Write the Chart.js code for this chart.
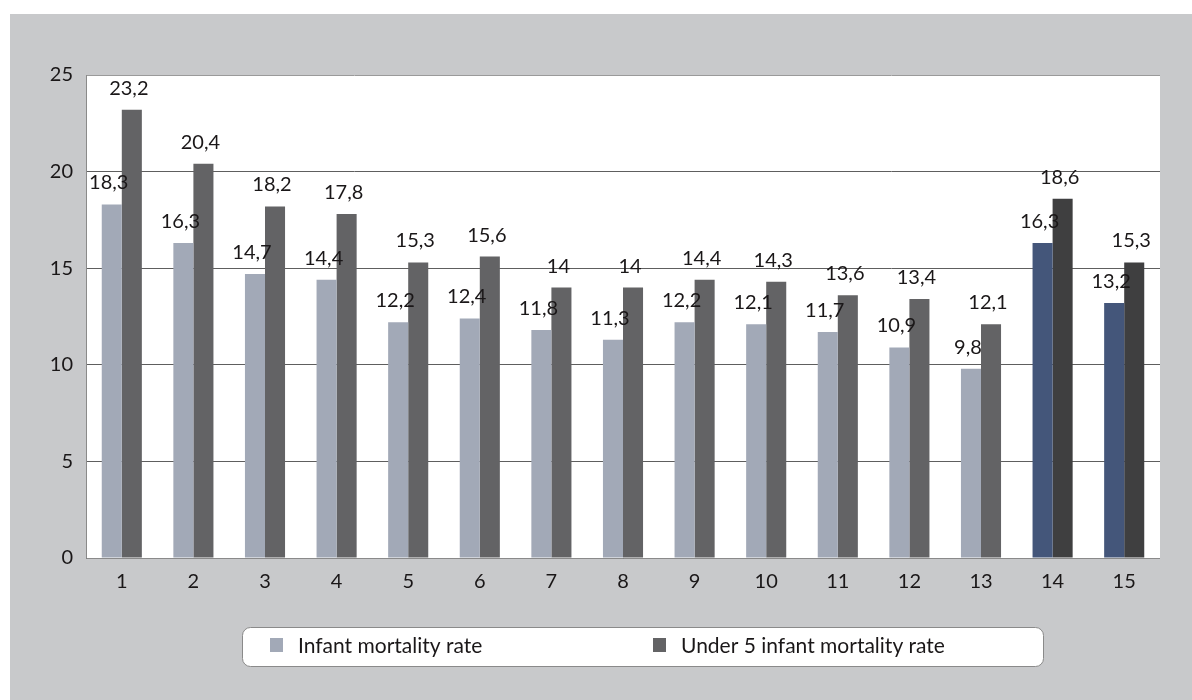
<!DOCTYPE html>
<html>
<head>
<meta charset="utf-8">
<script src="https://cdn.jsdelivr.net/npm/chart.js@4.4.1/dist/chart.umd.min.js"></script>
<style>
  html, body { margin: 0; padding: 0; background: #ffffff; }
  #wrap { width: 1192px; height: 700px; }
</style>
</head>
<body>
<div id="wrap"><canvas id="mortalidadChart" width="1192" height="700"></canvas></div>
<script>
// Datos del gráfico
const categorias = ['1', '2', '3', '4', '5', '6', '7', '8', '9', '10', '11', '12', '13', '14', '15'];
const tasaInfantil = [18.3, 16.3, 14.7, 14.4, 12.2, 12.4, 11.8, 11.3, 12.2, 12.1, 11.7, 10.9, 9.8, 16.3, 13.2];
const tasaMenores5 = [23.2, 20.4, 18.2, 17.8, 15.3, 15.6, 14, 14, 14.4, 14.3, 13.6, 13.4, 12.1, 18.6, 15.3];
const ticksY = [0, 5, 10, 15, 20, 25];
const destacados = ['14', '15'];

const FUENTE = 'Lato, "Open Sans", sans-serif';
const TEXTO = '#1a1718';

// Colores (las dos últimas categorías van resaltadas)
const coloresInfantil = categorias.map(c => destacados.includes(c) ? '#44567a' : '#a2a9b7');
const coloresMenores5 = categorias.map(c => destacados.includes(c) ? '#3f3f40' : '#636365');

function formatoValor(v) {
    return String(v).replace('.', ',');
}

// Fondo gris y área blanca del gráfico
const pluginFondo = {
    id: 'fondo',
    beforeDraw(chart) {
        const ctx = chart.ctx;
        const a = chart.chartArea;
        ctx.save();
        ctx.fillStyle = '#ffffff';
        ctx.fillRect(0, 0, chart.width, chart.height);
        ctx.fillStyle = '#c8c9cb';
        ctx.fillRect(10, 14, chart.width - 10, chart.height - 14);
        ctx.fillStyle = '#ffffff';
        ctx.fillRect(a.left, a.top, a.right - a.left, a.bottom - a.top);
        ctx.restore();
    },
    afterDatasetsDraw(chart) {
        const ctx = chart.ctx;
        const a = chart.chartArea;
        ctx.save();
        // borde izquierdo y eje inferior
        ctx.strokeStyle = '#8a8a8a';
        ctx.lineWidth = 1;
        ctx.beginPath();
        ctx.moveTo(a.left + 0.5, a.top);
        ctx.lineTo(a.left + 0.5, a.bottom + 0.5);
        ctx.lineTo(a.right, a.bottom + 0.5);
        ctx.stroke();
        ctx.restore();
    }
};

// Etiquetas de valor sobre cada barra
const pluginEtiquetas = {
    id: 'etiquetas',
    afterDatasetsDraw(chart) {
        const ctx = chart.ctx;
        ctx.save();
        ctx.font = '20px ' + FUENTE;
        ctx.fillStyle = TEXTO;
        ctx.textAlign = 'center';
        ctx.textBaseline = 'alphabetic';
        chart.data.datasets.forEach((ds, i) => {
            const meta = chart.getDatasetMeta(i);
            meta.data.forEach((barra, j) => {
                ctx.fillText(formatoValor(ds.data[j]), barra.x - 3, barra.y - 15);
            });
        });
        ctx.restore();
    }
};

// Leyenda dibujada en un recuadro blanco redondeado
const pluginLeyenda = {
    id: 'leyendaCaja',
    afterDraw(chart) {
        const ctx = chart.ctx;
        const x = 242, y = 627, w = 801, h = 39, r = 8;
        ctx.save();
        ctx.fillStyle = '#ffffff';
        ctx.strokeStyle = '#8a8a8a';
        ctx.lineWidth = 1;
        ctx.beginPath();
        ctx.roundRect(x + 0.5, y + 0.5, w, h, r);
        ctx.fill();
        ctx.stroke();

        const posiciones = [
            { cuadro: 270, texto: 298 },
            { cuadro: 653, texto: 681 }
        ];
        ctx.font = '21px ' + FUENTE;
        ctx.textBaseline = 'middle';
        ctx.textAlign = 'left';
        chart.data.datasets.forEach((ds, i) => {
            const p = posiciones[i];
            ctx.fillStyle = ds.legendColor;
            ctx.fillRect(p.cuadro, 638, 13, 14);
            ctx.fillStyle = TEXTO;
            ctx.fillText(ds.label, p.texto, 646);
        });
        ctx.restore();
    }
};

const ctx = document.getElementById('mortalidadChart');

new Chart(ctx, {
    type: 'bar',
    data: {
        labels: categorias,
        datasets: [{
            label: 'Infant mortality rate',
            data: tasaInfantil,
            backgroundColor: coloresInfantil,
            legendColor: '#a2a9b7',
            categoryPercentage: 0.56,
            barPercentage: 1.0
        }, {
            label: 'Under 5 infant mortality rate',
            data: tasaMenores5,
            backgroundColor: coloresMenores5,
            legendColor: '#636365',
            categoryPercentage: 0.56,
            barPercentage: 1.0
        }]
    },
    options: {
        responsive: false,
        animation: false,
        devicePixelRatio: 1,
        layout: {
            padding: { left: 0, top: 75, right: 32, bottom: 0 }
        },
        plugins: {
            legend: { display: false },
            tooltip: { enabled: false }
        },
        scales: {
            x: {
                grid: { display: false, drawTicks: false },
                border: { display: false },
                ticks: {
                    color: TEXTO,
                    font: { family: FUENTE, size: 20 },
                    padding: 12
                },
                afterFit(scale) {
                    scale.height = 142;
                }
            },
            y: {
                min: 0,
                max: 25,
                afterBuildTicks(scale) {
                    scale.ticks = ticksY.map(v => ({ value: v }));
                },
                grid: {
                    drawTicks: false,
                    color: ctx => ctx.tick && ctx.tick.value === 25 ? '#9a9a9a' : '#5e5e5e',
                    lineWidth: 1
                },
                border: { display: false },
                ticks: {
                    color: TEXTO,
                    font: { family: FUENTE, size: 20 },
                    padding: 13
                },
                afterFit(scale) {
                    scale.width = 86;
                }
            }
        }
    },
    plugins: [pluginFondo, pluginEtiquetas, pluginLeyenda]
});
</script>
</body>
</html>
